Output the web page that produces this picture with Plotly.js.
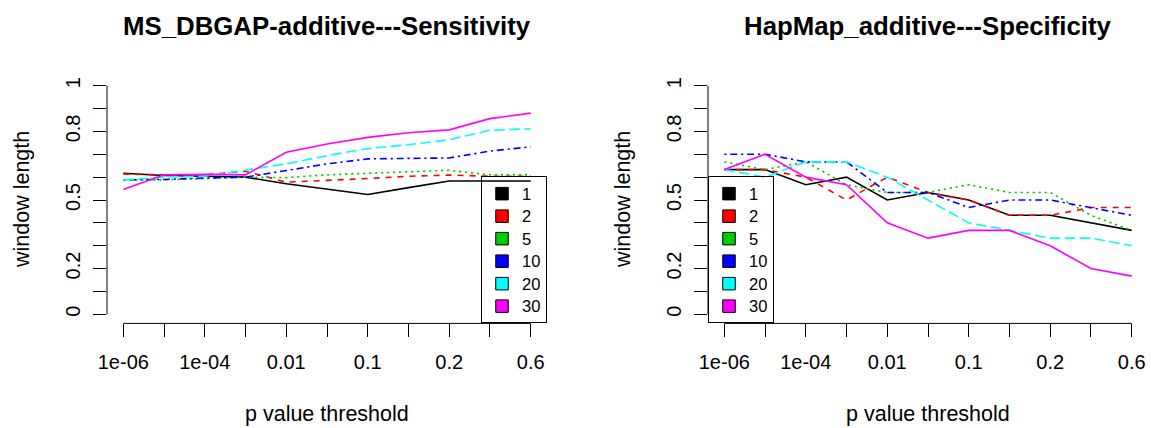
<!DOCTYPE html>
<html><head><meta charset="utf-8">
<script src="https://cdn.plot.ly/plotly-3.0.1.min.js"></script>
<style>html,body{margin:0;padding:0;background:#fff}</style>
</head><body><div id="chart" style="width:1151px;height:428px"></div>
<script>
// ---- data ----
const thresholds = ["1e-06","1e-05","1e-04","0.001","0.01","0.05","0.1","0.15","0.2","0.4","0.6"];
const xTickText  = ["1e-06","","1e-04","","0.01","","0.1","","0.2","","0.6"];
const yTickVals  = [0,0.1,0.2,0.3,0.4,0.5,0.6,0.7,0.8,0.9,1];
const yTickText  = ["0","","0.2","","","0.5","","","0.8","","1"];
const windowLengths = ["1","2","5","10","20","30"];

const sens_w1  = [0.617,0.607,0.604,0.600,0.571,0.546,0.524,0.554,0.583,0.583,0.583];
const sens_w2  = [0.614,0.610,0.610,0.626,0.578,0.585,0.594,0.604,0.609,0.604,0.604];
const sens_w5  = [0.588,0.588,0.594,0.600,0.598,0.610,0.617,0.624,0.630,0.610,0.610];
const sens_w10 = [0.588,0.590,0.596,0.600,0.629,0.658,0.680,0.682,0.684,0.714,0.733];
const sens_w20 = [0.588,0.600,0.604,0.630,0.658,0.694,0.725,0.742,0.764,0.805,0.812];
const sens_w30 = [0.546,0.610,0.612,0.610,0.709,0.745,0.774,0.794,0.807,0.856,0.880];

const spec_w1  = [0.633,0.633,0.567,0.600,0.500,0.533,0.500,0.433,0.433,0.400,0.367];
const spec_w2  = [0.633,0.633,0.600,0.500,0.600,0.533,0.500,0.433,0.433,0.467,0.467];
const spec_w5  = [0.667,0.633,0.667,0.567,0.533,0.533,0.567,0.533,0.533,0.433,0.367];
const spec_w10 = [0.700,0.700,0.667,0.667,0.533,0.533,0.467,0.500,0.500,0.467,0.433];
const spec_w20 = [0.633,0.600,0.667,0.667,0.600,0.500,0.400,0.367,0.333,0.333,0.300];
const spec_w30 = [0.633,0.700,0.600,0.567,0.400,0.333,0.367,0.367,0.300,0.200,0.167];

// ---- styles ----
const colors = ["#000000","#FF0000","#00CD00","#0000FF","#00FFFF","#FF00FF"];
const dashes = ["solid","6px,6px","2.2px,3.8px","2.2px,3.8px,7px,3.8px","10.5px,4.5px","solid"];
const FONT = "Liberation Sans, Arial, Helvetica, sans-serif";

const W = 1151, H = 428;
const px = v => v / W;
const py = v => (H - v) / H;

const panels = [
  {series:[sens_w1,sens_w2,sens_w5,sens_w10,sens_w20,sens_w30], xa:"x", ya:"y", lg:"legend",
   title:"MS_DBGAP-additive---Sensitivity", left:107, right:547},
  {series:[spec_w1,spec_w2,spec_w5,spec_w10,spec_w20,spec_w30], xa:"x2", ya:"y2", lg:"legend2",
   title:"HapMap_additive---Specificity", left:708, right:1148}
];
const TOP = 76.6, BOT = 323.4;

const traces = [];
panels.forEach(p => {
  p.series.forEach((s, i) => {
    traces.push({type:"scatter", mode:"lines", x:thresholds, y:s, xaxis:p.xa, yaxis:p.ya,
      line:{color:colors[i], width:1.6, dash:dashes[i]}, showlegend:false, hoverinfo:"skip"});
  });
  windowLengths.forEach((w, i) => {
    traces.push({type:"scatter", mode:"markers", x:[null], y:[null], xaxis:p.xa, yaxis:p.ya,
      name:'<span style="font-size:16.5px">' + w + '</span>', legend:p.lg, showlegend:true,
      marker:{symbol:"square", size:12.5, color:colors[i], line:{color:"#000", width:1}}});
  });
});

function xAxis(p, anchor) {
  return {domain:[px(p.left), px(p.right)], anchor:anchor, type:"category",
    range:[-0.4, thresholds.length - 1 + 0.4], tickmode:"array", tickvals:thresholds, ticktext:xTickText,
    ticks:"outside", ticklen:13, tickwidth:1, tickcolor:"#000", showline:false, showgrid:false,
    zeroline:false, tickangle:0, ticklabelstandoff:8,
    tickfont:{family:FONT, size:20, color:"#000"}, fixedrange:true};
}
function yAxis(anchor) {
  return {domain:[py(BOT), py(TOP)], anchor:anchor, range:[-0.04, 1.04], tickmode:"array",
    tickvals:yTickVals, ticktext:yTickText, ticks:"outside", ticklen:13, tickwidth:1, tickcolor:"#000",
    showline:false, showgrid:false, zeroline:false, tickangle:-90, ticklabelstandoff:5,
    tickfont:{family:FONT, size:20, color:"#000"}, fixedrange:true};
}

const shapes = [];
const annotations = [];
panels.forEach(p => {
  shapes.push({type:"line", xref:p.xa, yref:"paper", x0:0, x1:thresholds.length-1,
    y0:py(BOT), y1:py(BOT), line:{color:"#000", width:1}});
  shapes.push({type:"line", xref:"paper", yref:p.ya, x0:px(p.left), x1:px(p.left),
    y0:0, y1:1, line:{color:"#000", width:1}});
  const cx = px((p.left + p.right) / 2);
  annotations.push({text:p.title, xref:"paper", yref:"paper", x:cx, y:py(26), xanchor:"center",
    yanchor:"middle", showarrow:false, font:{family:FONT, size:25.8, color:"#000", weight:"bold"}});
  annotations.push({text:"p value threshold", xref:"paper", yref:"paper", x:cx, y:py(414),
    xanchor:"center", yanchor:"middle", showarrow:false, font:{family:FONT, size:21.5, color:"#000"}});
  annotations.push({text:"window length", xref:"paper", yref:"paper", x:px(p.left - 85), y:py((TOP+BOT)/2),
    xanchor:"center", yanchor:"middle", textangle:-90, showarrow:false,
    font:{family:FONT, size:21.5, color:"#000"}});
});

const legendBase = {bgcolor:"rgba(0,0,0,0)", bordercolor:"#000", borderwidth:1,
  font:{family:FONT, size:15, color:"#000"}, yanchor:"bottom", y:py(BOT), orientation:"v",
  itemclick:false, itemdoubleclick:false};

const layout = {
  width:W, height:H, margin:{l:0, r:0, t:0, b:0}, paper_bgcolor:"#fff", plot_bgcolor:"rgba(0,0,0,0)",
  showlegend:true,
  xaxis:xAxis(panels[0], "y"), yaxis:yAxis("x"),
  xaxis2:xAxis(panels[1], "y2"), yaxis2:yAxis("x2"),
  legend:Object.assign({}, legendBase, {x:px(panels[0].right), xanchor:"right"}),
  legend2:Object.assign({}, legendBase, {x:px(panels[1].left), xanchor:"left"}),
  shapes:shapes, annotations:annotations
};

Plotly.newPlot("chart", traces, layout, {displayModeBar:false, staticPlot:true});
</script></body></html>
